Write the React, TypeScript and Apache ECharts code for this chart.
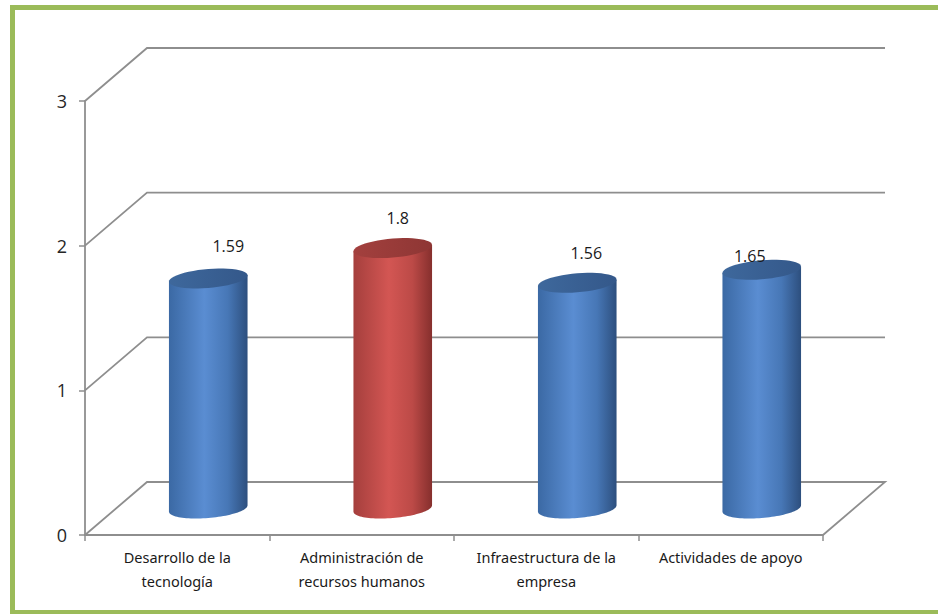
import React, { useEffect, useRef } from "react";
import * as echarts from "echarts";

const categories = [
  "Desarrollo de la\ntecnología",
  "Administración de\nrecursos humanos",
  "Infraestructura de la\nempresa",
  "Actividades de apoyo",
];
const values = [1.59, 1.8, 1.56, 1.65];
const highlighted = [false, true, false, false];
const yTicks = [0, 1, 2, 3];

// layout / style
const DEPTH_X = 62;
const DEPTH_Y = -53;
const labelOffsets = [
  [20, -32],
  [5, -30],
  [9, -30],
  [-12, -14],
];
const GRID_COLOR = "#8e8e8e";

function ellipsePoints(cx: number, cy: number, rx: number, ry: number, shear: number, from = 0, to = Math.PI * 2, n = 48) {
  const pts: number[][] = [];
  for (let i = 0; i <= n; i++) {
    const t = from + ((to - from) * i) / n;
    const dx = rx * Math.cos(t);
    pts.push([cx + dx, cy + ry * Math.sin(t) - shear * dx]);
  }
  return pts;
}

function lg(stops: [number, string][]) {
  return new echarts.graphic.LinearGradient(
    0, 0, 1, 0,
    stops.map(([offset, color]) => ({ offset, color }))
  );
}

export default function App() {
  const ref = useRef<HTMLDivElement>(null);
  useEffect(() => {
    document.body.style.margin = "0";
    if (!ref.current) return;
    const chart = echarts.init(ref.current, undefined, { renderer: "svg" });

    const blueBody = (): any => lg([[0, "#3b69a4"], [0.45, "#5a8dd2"], [0.75, "#4777b6"], [1, "#2d4f7e"]]);
    const redBody = (): any => lg([[0, "#a53f3d"], [0.45, "#d35653"], [0.75, "#bc4a47"], [1, "#862f2d"]]);
    const blueTop = (): any => lg([[0, "#3e689c"], [1, "#34588a"]]);
    const redTop = (): any => lg([[0, "#a3403e"], [1, "#8e3634"]]);

    const option: any = {
      animation: false,
      backgroundColor: "#ffffff",
      grid: { left: 85, top: 101, width: 738, height: 434, containLabel: false },
      xAxis: {
        type: "category",
        data: categories,
        boundaryGap: true,
        axisLine: { show: true, lineStyle: { color: GRID_COLOR, width: 1.8 } },
        axisTick: { show: true, length: 6, lineStyle: { color: GRID_COLOR, width: 1.5 } },
        axisLabel: {
          margin: 10,
          fontFamily: "'Liberation Sans Narrow', 'Noto Sans', sans-serif",
          fontSize: 14.5,
          lineHeight: 24,
          color: "#1a1a1a",
          interval: 0,
        },
        splitLine: { show: false },
      },
      yAxis: {
        type: "value",
        min: 0,
        max: 3,
        interval: 1,
        axisLine: { show: true, lineStyle: { color: GRID_COLOR, width: 1.8 } },
        axisTick: { show: true, length: 6, lineStyle: { color: GRID_COLOR, width: 1.5 } },
        axisLabel: {
          margin: 18,
          fontFamily: "'Open Sans', 'Noto Sans', sans-serif",
          fontSize: 18,
          color: "#262626",
        },
        splitLine: { show: false },
      },
      graphic: [
        {
          type: "rect",
          shape: { x: 12.5, y: 7.5, width: 1000, height: 605 },
          style: { fill: "none", stroke: "#9bbb59", lineWidth: 5 },
          silent: true,
          z: 100,
        },
      ],
      series: [
        {
          type: "custom",
          z: 1,
          data: yTicks.map((t) => [0, t]),
          renderItem: (params: any, api: any) => {
            const t = api.value(1);
            const band = api.size([1, 0])[0];
            const first = api.coord([0, t]);
            const last = api.coord([categories.length - 1, t]);
            const lx = first[0] - band / 2;
            const rx = last[0] + band / 2;
            const y = first[1];
            const pts = [
              [lx, y],
              [lx + DEPTH_X, y + DEPTH_Y],
              [rx + DEPTH_X, y + DEPTH_Y],
            ];
            if (t === 0) pts.push([rx, y]);
            return {
              type: "polyline",
              shape: { points: pts },
              style: { stroke: GRID_COLOR, lineWidth: 1.8, fill: "none" },
            };
          },
        },
        {
          type: "custom",
          z: 5,
          data: values.map((v, i) => [i, v]),
          renderItem: (params: any, api: any) => {
            const idx = api.value(0);
            const v = api.value(1);
            const band = api.size([1, 0])[0];
            const top = api.coord([idx, v]);
            const base = api.coord([idx, 0]);
            const cx = top[0] + DEPTH_X / 2;
            const ty = top[1] + DEPTH_Y / 2;
            const by = base[1] + DEPTH_Y / 2;
            const rx = band * 0.213;
            const ry = 9.5;
            const shear = 0.08;
            const red = highlighted[idx];
            const bodyPts = [
              [cx - rx, ty + shear * rx],
              [cx + rx, ty - shear * rx],
              ...ellipsePoints(cx, by, rx, ry, shear, 0, Math.PI),
            ];
            const topPts = ellipsePoints(cx, ty, rx, ry, shear);
            const off = labelOffsets[idx] || [0, -30];
            return {
              type: "group",
              children: [
                {
                  type: "polygon",
                  shape: { points: bodyPts },
                  style: { fill: red ? redBody() : blueBody() },
                },
                {
                  type: "polygon",
                  shape: { points: topPts },
                  style: { fill: red ? redTop() : blueTop() },
                },
                {
                  type: "text",
                  x: cx + off[0],
                  y: ty + off[1],
                  style: {
                    text: String(v),
                    fontFamily: "'Open Sans', 'Noto Sans', sans-serif",
                    fontSize: 16,
                    fill: "#1a1a1a",
                    align: "center",
                    verticalAlign: "middle",
                  },
                },
              ],
            };
          },
        },
      ],
    };
    chart.setOption(option);
    return () => chart.dispose();
  }, []);
  return <div ref={ref} style={{ width: 938, height: 614 }} />;
}
